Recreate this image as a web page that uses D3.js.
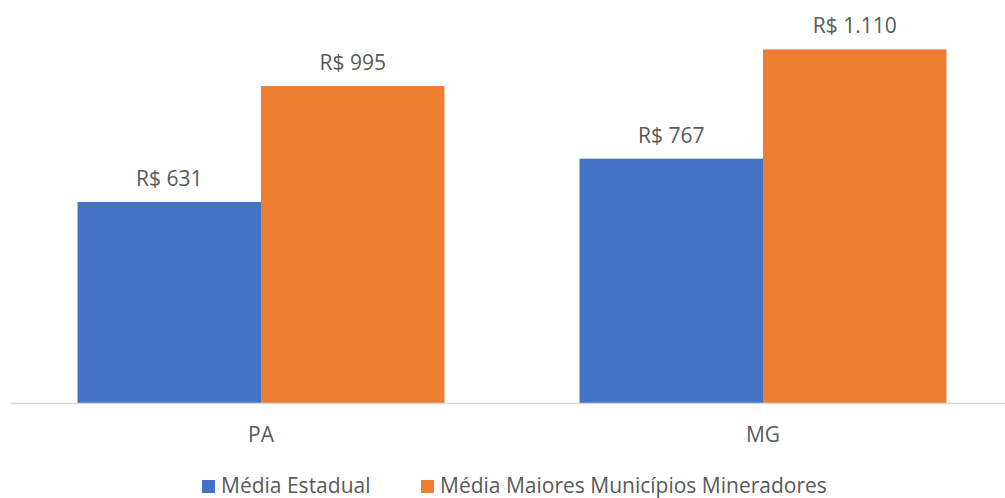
<!DOCTYPE html>
<html>
<head>
<meta charset="utf-8">
<script src="https://cdn.jsdelivr.net/npm/d3@7"></script>
<style>
  body { margin: 0; background: #fff; }
  text { font-family: "Open Sans", sans-serif; fill: #595959; }
</style>
</head>
<body>
<div id="chart"></div>
<script>
// Chart data
const categories = ["PA", "MG"];
const seriesNames = ["Média Estadual", "Média Maiores Municípios Mineradores"];
const mediaEstadual = [631, 767];
const mediaMineradores = [995, 1110];
const colors = ["#4472C4", "#ED7D31"];

const width = 1005;
const height = 498;
const baseline = 403;

const svg = d3.select("#chart").append("svg")
  .attr("width", width)
  .attr("height", height);

// Group scale, spread so the plot runs off the right edge like the original
const x0 = d3.scaleBand()
  .domain(categories)
  .range([10, 1014])
  .paddingInner(0)
  .paddingOuter(0);

const x1 = d3.scaleBand()
  .domain(seriesNames)
  .range([0, x0.bandwidth()])
  .paddingInner(0)
  .paddingOuter(0.368);

const yScale = d3.scaleLinear()
  .domain([0, 1200])
  .range([baseline, baseline - 1200 * 201 / 631]);

// Build rows from the arrays
const rows = categories.map((c, i) => ({
  cat: c,
  values: [
    { name: seriesNames[0], value: mediaEstadual[i], color: colors[0] },
    { name: seriesNames[1], value: mediaMineradores[i], color: colors[1] }
  ]
}));

const fmt = v => "R$ " + d3.format(",")(v).replace(/,/g, ".");

const groups = svg.selectAll(".group")
  .data(rows)
  .enter().append("g")
    .attr("class", "group")
    .attr("transform", d => "translate(" + x0(d.cat) + ",0)");

groups.selectAll("rect")
  .data(d => d.values)
  .enter().append("rect")
    .attr("x", d => x1(d.name))
    .attr("width", x1.bandwidth())
    .attr("y", d => yScale(d.value))
    .attr("height", d => baseline - yScale(d.value))
    .attr("fill", d => d.color);

groups.selectAll(".label")
  .data(d => d.values)
  .enter().append("text")
    .attr("class", "label")
    .attr("x", d => x1(d.name) + x1.bandwidth() / 2)
    .attr("y", d => yScale(d.value) - 16)
    .attr("text-anchor", "middle")
    .style("font-size", "21px")
    .text(d => fmt(d.value));

// X axis (just the baseline and category labels)
const xAxis = svg.append("g")
  .attr("transform", "translate(0," + baseline + ")")
  .call(d3.axisBottom(x0).tickSize(0).tickPadding(0));

xAxis.select(".domain")
  .attr("stroke", "#D9D9D9")
  .attr("stroke-width", 1.5);

xAxis.selectAll(".tick text")
  .attr("dy", 0)
  .attr("y", 39)
  .style("font-size", "21px")
  .style("font-family", "Open Sans, sans-serif")
  .attr("fill", "#595959");

// Legend
const legendPos = [202, 421];
const legend = svg.selectAll(".legend")
  .data(seriesNames)
  .enter().append("g")
    .attr("class", "legend")
    .attr("transform", (d, i) => "translate(" + legendPos[i] + ",480)");

legend.append("rect")
  .attr("width", 13)
  .attr("height", 13)
  .attr("fill", (d, i) => colors[i]);

legend.append("text")
  .attr("x", 19)
  .attr("y", 12.5)
  .style("font-size", "21px")
  .text(d => d);
</script>
</body>
</html>
